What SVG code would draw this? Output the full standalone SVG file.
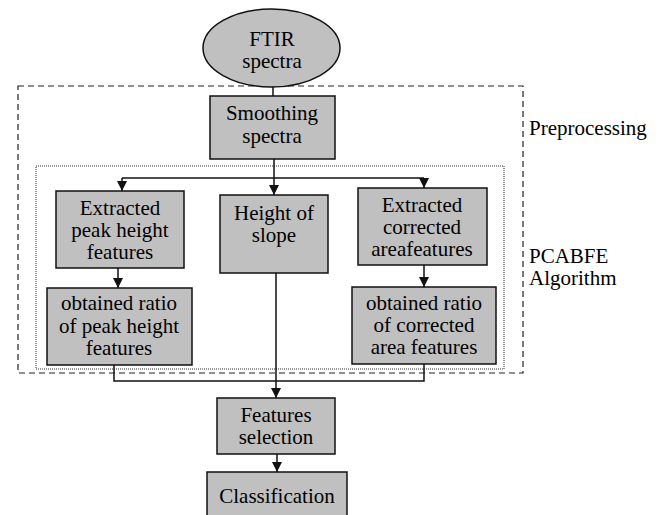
<svg xmlns="http://www.w3.org/2000/svg" width="661" height="515" viewBox="0 0 661 515">
<defs>
<marker id="ah" viewBox="0 0 10 10" refX="10" refY="5" markerWidth="10" markerHeight="10" markerUnits="userSpaceOnUse" orient="auto">
<path d="M0,0 L10,5 L0,10 z" fill="#111"/>
</marker>
</defs>
<rect x="18" y="86" width="505" height="287" fill="none" stroke="#222" stroke-width="1.2" stroke-dasharray="6,4"/>
<rect x="36" y="166" width="468" height="203" fill="none" stroke="#333" stroke-width="1" stroke-dasharray="1,1"/>
<text x="529" y="135" font-family="Liberation Serif" font-size="21">Preprocessing</text>
<text x="529" y="263" font-family="Liberation Serif" font-size="21">PCABFE</text>
<text x="529" y="285" font-family="Liberation Serif" font-size="21">Algorithm</text>
<g id="connectors" fill="none" stroke="#111" stroke-width="1.5">
<line x1="273" y1="80" x2="273" y2="96"/>
<line x1="274" y1="159" x2="274" y2="178"/>
<line x1="122" y1="178" x2="424" y2="178"/>
<line x1="122" y1="178" x2="122" y2="191" marker-end="url(#ah)"/>
<line x1="274" y1="178" x2="274" y2="195" marker-end="url(#ah)"/>
<line x1="424" y1="178" x2="424" y2="188" marker-end="url(#ah)"/>
<line x1="118" y1="268" x2="118" y2="288" marker-end="url(#ah)"/>
<line x1="424" y1="265" x2="424" y2="287" marker-end="url(#ah)"/>
<polyline points="114,365 114,381 424,381 424,364"/>
<line x1="276" y1="273" x2="276" y2="398" marker-end="url(#ah)"/>
<line x1="277" y1="454" x2="277" y2="472" marker-end="url(#ah)"/>
</g>
<g id="ftir">
<ellipse cx="271.5" cy="48" rx="68.5" ry="39" fill="#c0c0c0" stroke="#111" stroke-width="1.5"/>
<text x="272" y="46" font-family="Liberation Serif" font-size="21" text-anchor="middle">FTIR</text>
<text x="272" y="68" font-family="Liberation Serif" font-size="21" text-anchor="middle">spectra</text>
</g>
<g id="smoothing">
<rect x="210" y="96" width="125" height="63" fill="#c0c0c0" stroke="#111" stroke-width="1.5"/>
<text x="272" y="120" font-family="Liberation Serif" font-size="21" text-anchor="middle">Smoothing</text>
<text x="272" y="143" font-family="Liberation Serif" font-size="21" text-anchor="middle">spectra</text>
</g>
<g id="peak">
<rect x="56" y="191" width="128" height="77" fill="#c0c0c0" stroke="#111" stroke-width="1.5"/>
<text x="120" y="215" font-family="Liberation Serif" font-size="21" text-anchor="middle">Extracted</text>
<text x="120" y="237" font-family="Liberation Serif" font-size="21" text-anchor="middle">peak height</text>
<text x="120" y="259" font-family="Liberation Serif" font-size="21" text-anchor="middle">features</text>
</g>
<g id="slope">
<rect x="220" y="195" width="108" height="78" fill="#c0c0c0" stroke="#111" stroke-width="1.5"/>
<text x="274" y="220" font-family="Liberation Serif" font-size="21" text-anchor="middle">Height of</text>
<text x="274" y="242" font-family="Liberation Serif" font-size="21" text-anchor="middle">slope</text>
</g>
<g id="area">
<rect x="358" y="188" width="129" height="77" fill="#c0c0c0" stroke="#111" stroke-width="1.5"/>
<text x="422" y="212" font-family="Liberation Serif" font-size="21" text-anchor="middle">Extracted</text>
<text x="422" y="234" font-family="Liberation Serif" font-size="21" text-anchor="middle">corrected</text>
<text x="422" y="256" font-family="Liberation Serif" font-size="21" text-anchor="middle">areafeatures</text>
</g>
<g id="ratiopeak">
<rect x="47" y="288" width="145" height="77" fill="#c0c0c0" stroke="#111" stroke-width="1.5"/>
<text x="119" y="310" font-family="Liberation Serif" font-size="21" text-anchor="middle">obtained ratio</text>
<text x="119" y="333" font-family="Liberation Serif" font-size="21" text-anchor="middle">of peak height</text>
<text x="119" y="355" font-family="Liberation Serif" font-size="21" text-anchor="middle">features</text>
</g>
<g id="ratioarea">
<rect x="352" y="287" width="144" height="77" fill="#c0c0c0" stroke="#111" stroke-width="1.5"/>
<text x="424" y="310" font-family="Liberation Serif" font-size="21" text-anchor="middle">obtained ratio</text>
<text x="424" y="332" font-family="Liberation Serif" font-size="21" text-anchor="middle">of corrected</text>
<text x="424" y="354" font-family="Liberation Serif" font-size="21" text-anchor="middle">area features</text>
</g>
<g id="selection">
<rect x="217" y="398" width="118" height="56" fill="#c0c0c0" stroke="#111" stroke-width="1.5"/>
<text x="276" y="422" font-family="Liberation Serif" font-size="21" text-anchor="middle">Features</text>
<text x="276" y="444" font-family="Liberation Serif" font-size="21" text-anchor="middle">selection</text>
</g>
<g id="classification">
<rect x="207" y="472" width="140" height="50" fill="#c0c0c0" stroke="#111" stroke-width="1.5"/>
<text x="277" y="503" font-family="Liberation Serif" font-size="21" text-anchor="middle">Classification</text>
</g>
</svg>
